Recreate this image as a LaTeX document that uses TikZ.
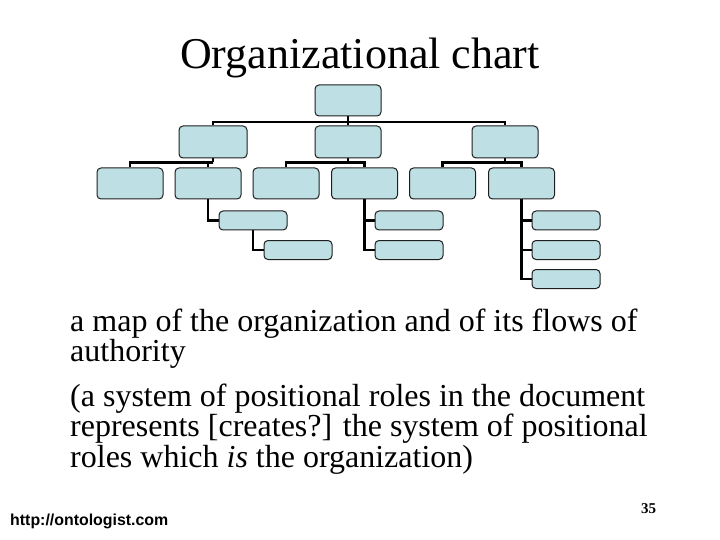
\documentclass[tikz,border=0pt]{standalone}
\usepackage{fontspec}
\setmainfont{Liberation Serif}
\newfontfamily\urlfont{Liberation Sans}
\usetikzlibrary{backgrounds}
\definecolor{boxfill}{RGB}{190,224,228}
\definecolor{boxline}{RGB}{30,30,30}
\tikzset{
  orgbox/.style={draw=boxline, fill=boxfill, line width=1pt, rounded corners=4pt,
    minimum width=66pt, minimum height=31pt, inner sep=0pt},
  smallbox/.style={orgbox, minimum width=68pt, minimum height=19pt},
  link/.style={line width=2.8pt, black},
  bodytext/.style={anchor=base west, inner sep=0pt, font=\fontsize{32}{32}\selectfont}
}
\begin{document}
\begin{tikzpicture}[x=1pt, y=-1pt]
\path[use as bounding box] (0,0) rectangle (720,540);

% title
\node[anchor=base, inner sep=0pt, font=\fontsize{44}{44}\selectfont] (title) at (360,69) {Organizational chart};

% level 1
\node[orgbox] (top) at (348,100.5) {};
% level 2
\node[orgbox, minimum width=68pt, minimum height=32pt] (A) at (213,142) {};
\node[orgbox, minimum height=32pt] (B) at (348,142) {};
\node[orgbox, minimum height=32pt] (C) at (505,142) {};
% level 3
\node[orgbox] (L1) at (130,183.5) {};
\node[orgbox] (L2) at (208,183.5) {};
\node[orgbox] (L3) at (286,183.5) {};
\node[orgbox] (L4) at (364.5,183.5) {};
\node[orgbox] (L5) at (442.5,183.5) {};
\node[orgbox] (L6) at (521.5,183.5) {};
% level 4
\node[smallbox] (D) at (253,220.5) {};
\node[smallbox] (E) at (298,250) {};
\node[smallbox] (F) at (409,220.5) {};
\node[smallbox] (G) at (409,250) {};
\node[smallbox] (H) at (566,220.5) {};
\node[smallbox] (I) at (566,250) {};
\node[smallbox] (J) at (566,279) {};

\begin{scope}[on background layer]
  \coordinate (j1) at (348,122);
  \draw[link] (top.south) -- (B.north);
  \draw[link] (A.north) |- (j1) -| (C.north);
  \coordinate (jA) at ([yshift=-4pt]A.south);
  \coordinate (jB) at ([yshift=-4pt]B.south);
  \coordinate (jC) at ([yshift=-4pt]C.south);
  \draw[link] (A.south) -- (jA);
  \draw[link] (L1.north) |- (jA) -| (L2.north);
  \draw[link] (B.south) -- (jB);
  \draw[link] (L3.north) |- (jB) -| (L4.north);
  \draw[link] (C.south) -- (jC);
  \draw[link] (L5.north) |- (jC) -| (L6.north);
  \draw[link] (L2.south) |- (D.west);
  \draw[link] (D.south) |- (E.west);
  \draw[link] (L4.south) |- (F.west);
  \draw[link] (L4.south) |- (G.west);
  \draw[link] (L6.south) |- (H.west);
  \draw[link] (L6.south) |- (I.west);
  \draw[link] (L6.south) |- (J.west);
\end{scope}

% body text
\node[bodytext] (t1) at (70,331) {a map of the organization and of its flows of};
\node[bodytext] (t2) at (70,361) {authority};
\node[bodytext] (t3) at (70,406) {(a system of positional roles in the document};
\node[bodytext] (t4) at (70,436) {represents [creates?] the system of positional};
\node[bodytext] (t5) at (70,467) {roles which \textit{is} the organization)};

% footer
\node[anchor=base west, inner sep=0pt, font=\urlfont\bfseries\fontsize{15.9}{18}\selectfont] (url) at (10,525) {http://ontologist.com};
\node[anchor=base west, inner sep=0pt, font=\bfseries\fontsize{15}{15}\selectfont] (num) at (641,513) {35};
\end{tikzpicture}
\end{document}
